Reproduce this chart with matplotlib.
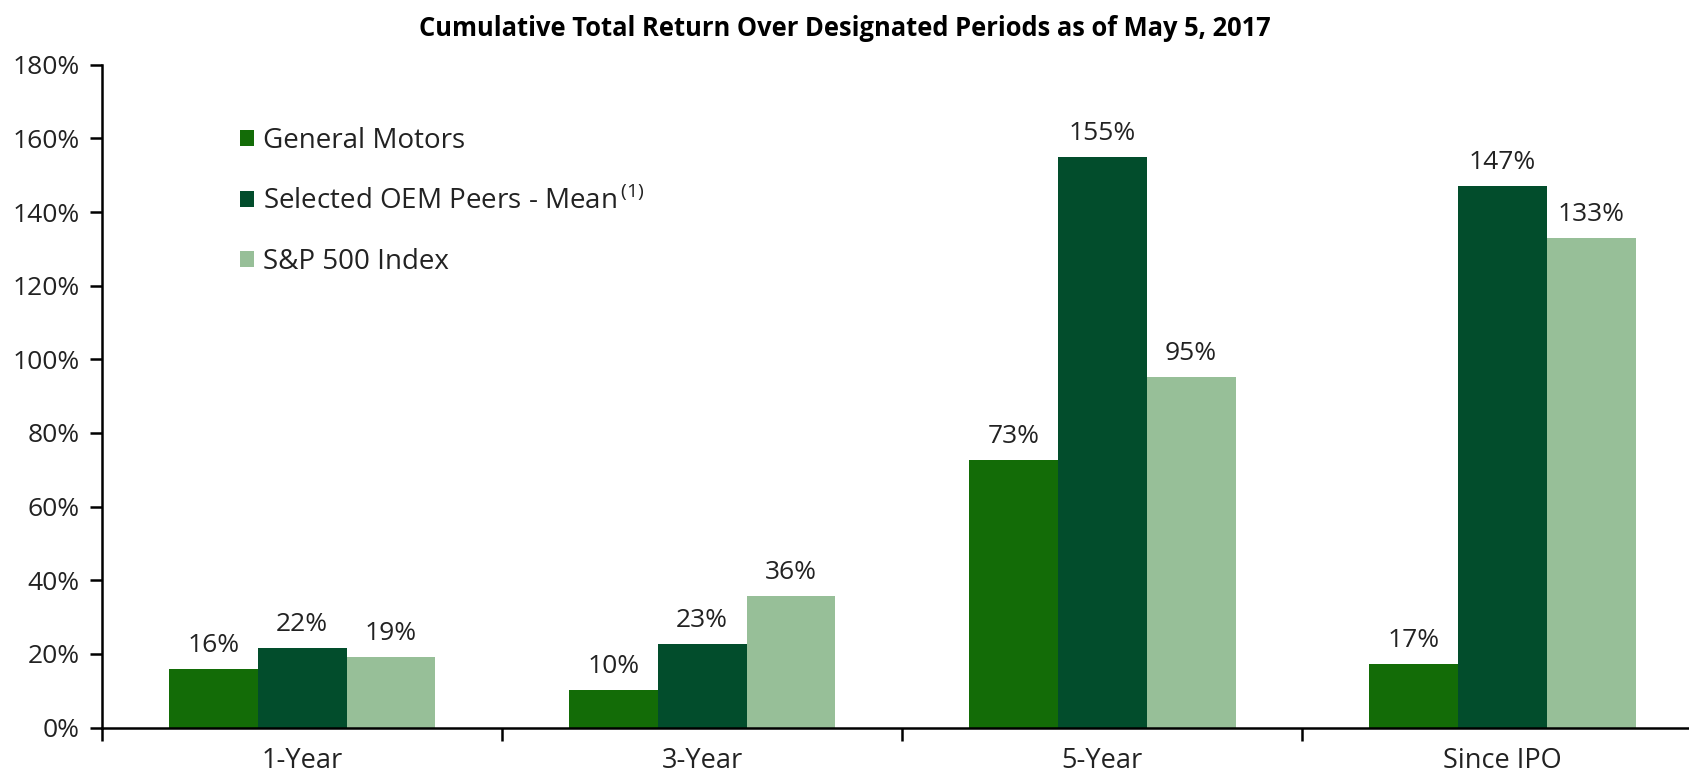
import numpy as np
import matplotlib.pyplot as plt
from matplotlib.ticker import FuncFormatter

# chart data
categories = ['1-Year', '3-Year', '5-Year', 'Since IPO']
series_names = ['General Motors', 'Selected OEM Peers - Mean$^{\\,\\mathrm{(1)}}$', 'S&P 500 Index']
gm_values = [15.8, 10.2, 72.6, 17.2]
oem_values = [21.7, 22.8, 155.0, 147.0]
sp_values = [19.1, 35.7, 95.2, 133.0]
colors = ['#136C07', '#024D2C', '#97BF98']

plt.rcParams['font.family'] = ['Open Sans', 'DejaVu Sans']
plt.rcParams['mathtext.fontset'] = 'custom'
plt.rcParams['mathtext.rm'] = 'Open Sans'

fig = plt.figure(figsize=(16.9, 7.73), dpi=100)
ax = fig.add_axes([0.0604, 0.0587, 0.947, 0.8576])

x = np.arange(len(categories))
width = 0.222
series = [gm_values, oem_values, sp_values]
txt = '#222222'

for i, (vals, name, c) in enumerate(zip(series, series_names, colors)):
    pos = x + (i - 1) * width
    ax.bar(pos, vals, width=width, color=c, label=name)
    for xp, v in zip(pos, vals):
        ax.annotate(f'{v:.0f}%', (xp, v), xytext=(0, 8), textcoords='offset points',
                    ha='center', va='bottom', fontsize=19, color=txt)

ax.set_xlim(-0.5, 3.5)
ax.set_ylim(0, 180)
ax.set_yticks(np.arange(0, 181, 20))
ax.yaxis.set_major_formatter(FuncFormatter(lambda v, p: f'{v:.0f}%'))
ax.tick_params(axis='y', labelsize=19, length=9, width=1.8, pad=7, labelcolor=txt)

ax.set_xticks(x)
ax.set_xticklabels(categories)
ax.set_xticks(np.arange(-0.5, 3.6, 1), minor=True)
ax.tick_params(axis='x', which='major', length=0, labelsize=19.5, pad=14, labelcolor=txt)
ax.tick_params(axis='x', which='minor', length=9, width=1.8)

ax.spines['top'].set_visible(False)
ax.spines['right'].set_visible(False)
ax.spines['left'].set_linewidth(1.8)
ax.spines['bottom'].set_linewidth(1.8)

ax.legend(loc='upper left', bbox_to_anchor=(215 / 1690, 1 - 102 / 773),
          bbox_transform=fig.transFigure, frameon=False, fontsize=20,
          handlelength=0.52, handleheight=0.52, handletextpad=0.3, labelspacing=1.15,
          labelcolor=txt)

fig.text(0.5, 1 - 29 / 773, 'Cumulative Total Return Over Designated Periods as of May 5, 2017',
         ha='center', va='center', fontsize=18.4, fontweight='bold')

fig.savefig('out.png', dpi=100)
